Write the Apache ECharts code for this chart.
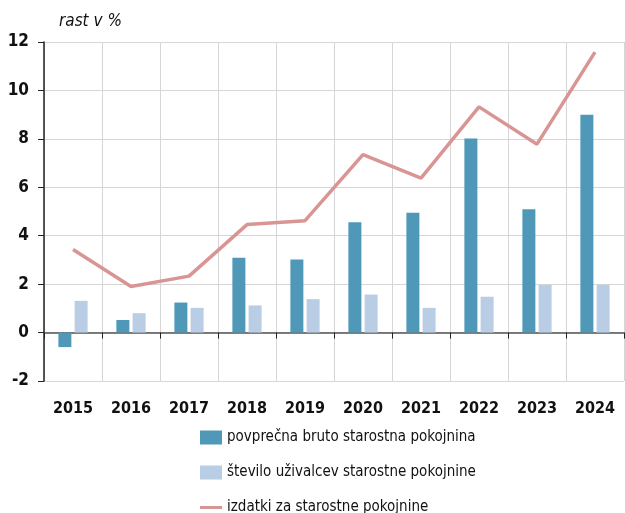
<!DOCTYPE html>
<html>
<head>
<meta charset="utf-8">
<script src="https://cdn.jsdelivr.net/npm/echarts@6/dist/echarts.min.js"></script>
<style>
  html, body { margin: 0; padding: 0; background: #fff; }
  #chart { width: 625px; height: 513px; }
</style>
</head>
<body>
<div id="chart"></div>
<script>
// data
const years = ['2015', '2016', '2017', '2018', '2019', '2020', '2021', '2022', '2023', '2024'];
const avgPension = [-0.6, 0.52, 1.24, 3.09, 3.02, 4.56, 4.95, 8.01, 5.09, 9.0];
const recipients = [1.31, 0.8, 1.02, 1.12, 1.38, 1.57, 1.02, 1.48, 1.97, 1.97];
const expenditure = [3.43, 1.9, 2.33, 4.46, 4.62, 7.35, 6.38, 9.32, 7.78, 11.58];
const seriesNames = ['povprečna bruto starostna pokojnina', 'število uživalcev starostne pokojnine', 'izdatki za starostne pokojnine'];

const font = '"DejaVu Sans Condensed", "DejaVu Sans", sans-serif';

let myChart = echarts.init(document.getElementById('chart'));
let option = {
  animation: false,
  title: {
    text: 'rast v %',
    left: 54,
    top: 8,
    textStyle: { fontFamily: font, fontStyle: 'italic', fontWeight: 'normal', fontSize: 17, color: '#111' }
  },
  grid: { left: 44, right: 1, top: 42, bottom: 132, containLabel: false },
  legend: {
    orient: 'vertical',
    left: 200,
    top: 430,
    height: 200,
    padding: 0,
    itemWidth: 22,
    itemHeight: 14,
    itemGap: 20,
    textStyle: { fontFamily: font, fontSize: 15, color: '#111' },
    data: [
      { name: seriesNames[0], icon: 'rect' },
      { name: seriesNames[1], icon: 'rect' },
      { name: seriesNames[2], icon: 'path://M0,0H22V3H0Z' }
    ]
  },
  xAxis: {
    type: 'category',
    data: years,
    axisLine: { onZero: true, lineStyle: { color: '#555', width: 1.5 } },
    axisTick: { show: true, length: 6, lineStyle: { color: '#222' } },
    axisLabel: { interval: 0, margin: 20, fontFamily: font, fontWeight: 'bold', fontSize: 16, color: '#111' },
    splitLine: { show: true, interval: 0, lineStyle: { color: '#d6d6d6' } }
  },
  yAxis: {
    type: 'value',
    min: -2,
    max: 12,
    interval: 2,
    axisLine: { show: true, lineStyle: { color: '#222', width: 1.5 } },
    axisTick: { show: true, length: 6, lineStyle: { color: '#222' } },
    axisLabel: { margin: 15, fontFamily: font, fontWeight: 'bold', fontSize: 17, color: '#111' },
    splitLine: { show: true, lineStyle: { color: '#d6d6d6' } }
  },
  series: [
    {
      name: seriesNames[0],
      type: 'bar',
      data: avgPension,
      barWidth: 13,
      barGap: '25%',
      itemStyle: { color: '#4f98b8' }
    },
    {
      name: seriesNames[1],
      type: 'bar',
      data: recipients,
      barWidth: 13,
      itemStyle: { color: '#b9cde5' }
    },
    {
      name: seriesNames[2],
      type: 'line',
      data: expenditure,
      symbol: 'none',
      lineStyle: { color: '#d99594', width: 3.5 },
      itemStyle: { color: '#d99594' }
    }
  ]
};
myChart.setOption(option);
</script>
</body>
</html>
